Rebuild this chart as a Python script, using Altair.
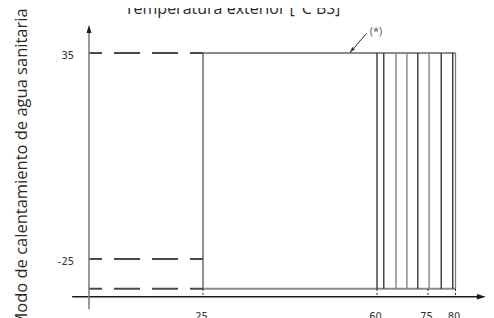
import altair as alt
import pandas as pd

# ---- data ----
x_title = "Temperatura exterior [°C BS]"
y_title = "Modo de calentamiento de agua sanitaria"
x_ticks = [25, 60, 75, 80]
x_tick_labels = ["25", "60", "75", "80"]
y_ticks = [35, -25]
y_tick_labels = ["35", "-25"]
dashed_levels = [35, -25, -33.7]          # dashed guide lines from the y axis to x = 25
dashed_start = [0, 0, 0]
dashed_end = [25, 25, 25]
band_levels = [35, -33.7]                 # top / bottom edges of the operating range
band_start = [25, 25]
band_end = [80, 80]
left_edge_x = [25]
hatch_dark_x = [60, 62, 72, 77.4, 79.5]
hatch_light_x = [65.6, 68.8, 75.2, 80]
range_low, range_high = -33.7, 35
xaxis_level = -36
xaxis_from, xaxis_to = -3.7, 84.2
yaxis_from, yaxis_to = -39.6, 41
x_arrow = [84.7]
y_arrow = [42.0]
note_text = ["(*)"]
note_x, note_y = [59.8], [41.0]
note_tail_x, note_tail_y = [57.9], [40.7]
note_tip_x, note_tip_y = [54.6], [35.2]
note_head_x, note_head_y = [54.9], [35.76]

# ---- scales (schematic, piecewise linear like the drawing) ----
xs = alt.Scale(domain=[0, 25, 60, 75, 80], range=[81, 195, 369, 420, 447.5], nice=False, zero=False)
ys = alt.Scale(domain=[-25, 35], range=[251, 45], nice=False, zero=False)


def X(f):
    return alt.X(f, type="quantitative", scale=xs, axis=None)


def Y(f):
    return alt.Y(f, type="quantitative", scale=ys, axis=None)


dash_df = pd.DataFrame({"y": dashed_levels, "x": dashed_start, "x2": dashed_end})
dashed = alt.Chart(dash_df).mark_rule(
    color="#4a4a4a", strokeWidth=2, strokeDash=[26, 12], strokeDashOffset=13
).encode(x=X("x"), x2="x2", y=Y("y"))

band_df = pd.DataFrame({"y": band_levels, "x": band_start, "x2": band_end})
band = alt.Chart(band_df).mark_rule(color="#8c8c8c", strokeWidth=2).encode(
    x=X("x"), x2="x2", y=Y("y"))

left_df = pd.DataFrame({"x": left_edge_x, "y": range_low, "y2": range_high})
left = alt.Chart(left_df).mark_rule(color="#555555", strokeWidth=1.3).encode(
    x=X("x"), y=Y("y"), y2="y2")

hatch_dark = alt.Chart(pd.DataFrame({"x": hatch_dark_x, "y": range_low, "y2": range_high})).mark_rule(
    color="#2a2a2a", strokeWidth=1.3).encode(x=X("x"), y=Y("y"), y2="y2")
hatch_light = alt.Chart(pd.DataFrame({"x": hatch_light_x, "y": range_low, "y2": range_high})).mark_rule(
    color="#7a7a7a", strokeWidth=1.3).encode(x=X("x"), y=Y("y"), y2="y2")

tick_df = pd.DataFrame({"x": x_ticks, "y": range_low, "y2": xaxis_level})
tickmarks = alt.Chart(tick_df).mark_rule(color="#222222", strokeWidth=1, strokeDash=[2, 2]).encode(
    x=X("x"), y=Y("y"), y2="y2")

xaxis_df = pd.DataFrame({"x": [xaxis_from], "x2": [xaxis_to], "y": [xaxis_level]})
xaxis = alt.Chart(xaxis_df).mark_rule(color="#1a1a1a", strokeWidth=1.3).encode(
    x=X("x"), x2="x2", y=Y("y"))

yaxis_df = pd.DataFrame({"x": [0], "y": [yaxis_from], "y2": [yaxis_to]})
yaxis = alt.Chart(yaxis_df).mark_rule(color="#777777", strokeWidth=1.5).encode(
    x=X("x"), y=Y("y"), y2="y2")

xarrow = alt.Chart(pd.DataFrame({"x": x_arrow, "y": [xaxis_level]})).mark_point(
    shape="M1,0L-1,-0.6L-1,0.6Z", size=81, filled=True, color="#1a1a1a", opacity=1, strokeWidth=0
).encode(x=X("x"), y=Y("y"))

yarrow = alt.Chart(pd.DataFrame({"x": [0], "y": y_arrow})).mark_point(
    shape="M0,-1L0.625,1L-0.625,1Z", size=64, filled=True, color="#1a1a1a", opacity=1, strokeWidth=0
).encode(x=X("x"), y=Y("y"))

xlab = alt.Chart(pd.DataFrame({"x": x_ticks, "t": x_tick_labels, "y": xaxis_level})).mark_text(
    font="Liberation Sans Narrow, DejaVu Sans Condensed, sans-serif", fontSize=11, color="#333333",
    baseline="top", dy=14, dx=-1.5
).encode(x=X("x"), y=Y("y"), text="t:N")

ylab = alt.Chart(pd.DataFrame({"y": y_ticks, "t": y_tick_labels, "x": 0})).mark_text(
    font="Liberation Sans Narrow, DejaVu Sans Condensed, sans-serif", fontSize=11, color="#333333",
    align="right", baseline="middle", dx=-15, dy=3
).encode(x=X("x"), y=Y("y"), text="t:N")

note_line = alt.Chart(pd.DataFrame({"x": note_tail_x, "y": note_tail_y, "x2": note_tip_x, "y2": note_tip_y})).mark_rule(
    color="#333333", strokeWidth=1
).encode(x=X("x"), y=Y("y"), x2="x2", y2="y2")

note_head = alt.Chart(pd.DataFrame({"x": note_head_x, "y": note_head_y})).mark_point(
    shape="M0,-1L0.6,1L-0.6,1Z", size=36, angle=221, filled=True, color="#333333", opacity=1, strokeWidth=0
).encode(x=X("x"), y=Y("y"))

note = alt.Chart(pd.DataFrame({"x": note_x, "y": note_y, "t": note_text})).mark_text(
    font="Open Sans", fontSize=11, color="#555555", align="center", baseline="middle"
).encode(x=X("x"), y=Y("y"), text="t:N")

xtitle = alt.Chart(pd.DataFrame({"t": [x_title]})).mark_text(
    font="Open Sans", fontSize=16, color="#2a2a2a", align="center", baseline="alphabetic"
).encode(x=alt.value(224.5), y=alt.value(6), text="t:N")

ytitle = alt.Chart(pd.DataFrame({"t": [y_title]})).mark_text(
    font="Open Sans", fontSize=16.5, color="#2a2a2a", align="center", baseline="alphabetic", angle=270
).encode(x=alt.value(19), y=alt.value(160), text="t:N")

chart = alt.layer(
    dashed, band, left, hatch_light, hatch_dark, tickmarks, xaxis, yaxis, xarrow, yarrow,
    xlab, ylab, note_line, note_head, note, xtitle, ytitle
).properties(
    width=478, height=310, autosize=alt.AutoSizeParams(type="none"), padding=0,
    background="white"
).configure_view(strokeWidth=0)

chart.save("out.html", embed_options={"renderer": "svg", "actions": False})
